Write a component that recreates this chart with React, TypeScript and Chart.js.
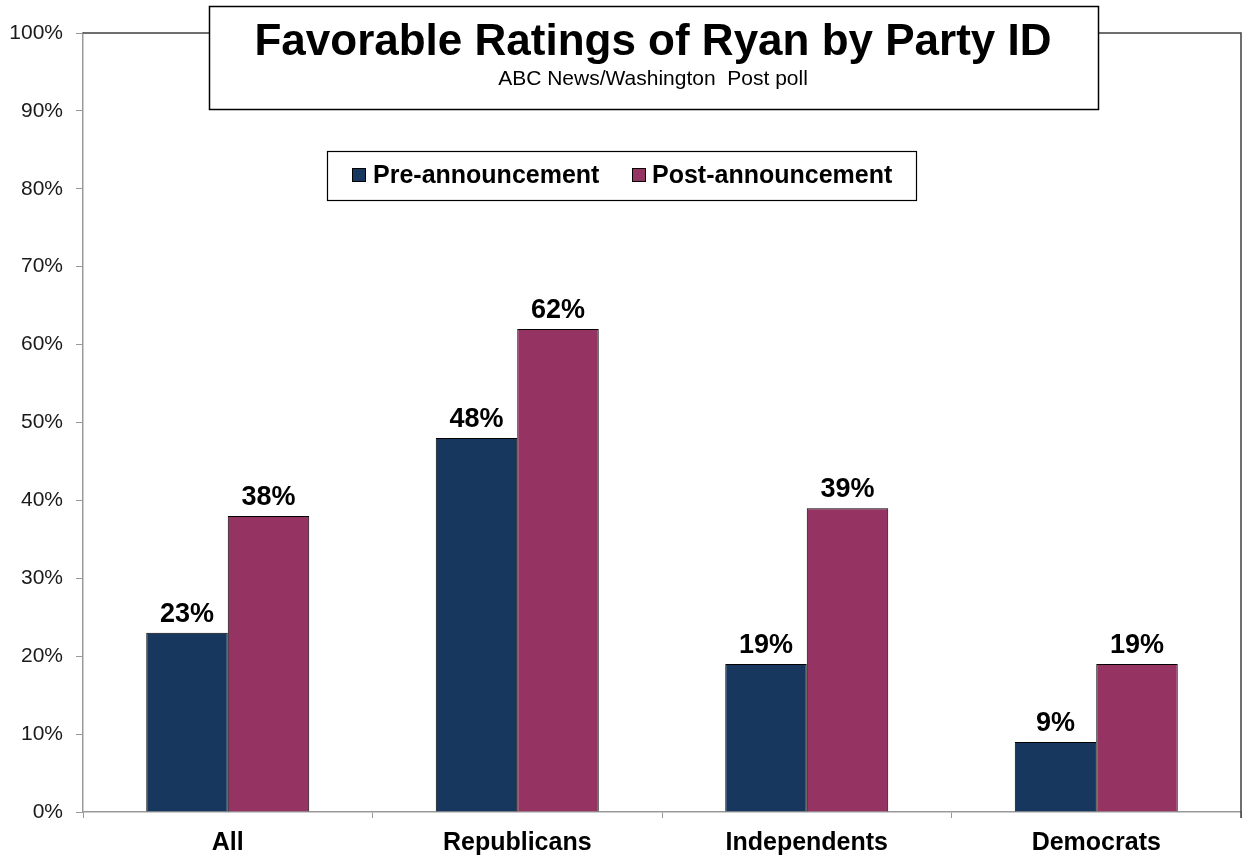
import React, { useEffect, useRef } from "react";
import { Chart, registerables } from "chart.js";
Chart.register(...registerables);

const categories = ["All", "Republicans", "Independents", "Democrats"];
const preValues = [23, 48, 19, 9];
const postValues = [38, 62, 39, 19];
const seriesNames = ["Pre-announcement", "Post-announcement"];
const seriesColors = ["#17375E", "#953463"];
const titleText = "Favorable Ratings of Ryan by Party ID";
const subtitleText = "ABC News/Washington  Post poll";
const yMin = 0;
const yMax = 100;
const yStep = 10;

const FONT = '"Liberation Sans", Arial, Helvetica, sans-serif';

const decorPlugin = {
  id: "decor",
  afterDatasetsDraw(chart: any) {
    const ctx = chart.ctx as CanvasRenderingContext2D;
    const ca = chart.chartArea;
    ctx.save();
    // data labels
    ctx.fillStyle = "#000";
    ctx.font = `bold 27px ${FONT}`;
    ctx.textAlign = "center";
    ctx.textBaseline = "alphabetic";
    chart.data.datasets.forEach((ds: any, di: number) => {
      const meta = chart.getDatasetMeta(di);
      meta.data.forEach((bar: any, i: number) => {
        ctx.fillText(`${ds.data[i]}%`, bar.x, bar.y - 11);
      });
    });
    // top & right border
    ctx.strokeStyle = "#404040";
    ctx.lineWidth = 1.5;
    ctx.beginPath();
    ctx.moveTo(ca.left, ca.top);
    ctx.lineTo(ca.right, ca.top);
    ctx.lineTo(ca.right, ca.bottom + 6);
    ctx.stroke();
    ctx.restore();
  },
  afterDraw(chart: any) {
    const ctx = chart.ctx as CanvasRenderingContext2D;
    ctx.save();
    // title box
    ctx.fillStyle = "#fff";
    ctx.fillRect(209.5, 6.5, 889, 103);
    ctx.strokeStyle = "#000";
    ctx.lineWidth = 1.5;
    ctx.strokeRect(209.5, 6.5, 889, 103);
    ctx.fillStyle = "#000";
    ctx.textAlign = "center";
    ctx.textBaseline = "alphabetic";
    ctx.font = `bold 44px ${FONT}`;
    ctx.fillText(titleText, 653, 55);
    ctx.font = `21px ${FONT}`;
    ctx.fillText(subtitleText, 653, 85);
    // legend box
    ctx.fillStyle = "#fff";
    ctx.fillRect(327.5, 151.5, 589, 49);
    ctx.strokeStyle = "#000";
    ctx.lineWidth = 1.2;
    ctx.strokeRect(327.5, 151.5, 589, 49);
    const items = [
      { sx: 352, tx: 373 },
      { sx: 632, tx: 652 },
    ];
    ctx.font = `bold 25px ${FONT}`;
    ctx.textAlign = "left";
    ctx.textBaseline = "middle";
    items.forEach((it, i) => {
      ctx.fillStyle = seriesColors[i];
      ctx.fillRect(it.sx + 0.5, 168.5, 13, 13);
      ctx.strokeStyle = "#000";
      ctx.lineWidth = 1;
      ctx.strokeRect(it.sx + 0.5, 168.5, 13, 13);
      ctx.fillStyle = "#000";
      ctx.fillText(seriesNames[i], it.tx, 176);
    });
    ctx.restore();
  },
};

export default function App() {
  const ref = useRef<HTMLCanvasElement | null>(null);
  useEffect(() => {
    if (!ref.current) return;
    const chart = new Chart(ref.current, {
      type: "bar",
      data: {
        labels: categories,
        datasets: [
          {
            label: seriesNames[0],
            data: preValues,
            backgroundColor: seriesColors[0],
            borderColor: "#000",
            borderWidth: 1,
          },
          {
            label: seriesNames[1],
            data: postValues,
            backgroundColor: seriesColors[1],
            borderColor: "#000",
            borderWidth: 1,
          },
        ],
      },
      options: {
        animation: false,
        responsive: false,
        layout: { padding: { left: 0, right: 2, top: 33, bottom: 0 } },
        plugins: {
          legend: { display: false },
          title: { display: false },
          tooltip: { enabled: false },
        },
        datasets: {
          bar: { categoryPercentage: 0.563, barPercentage: 1.0 },
        },
        scales: {
          x: {
            grid: {
              offset: true,
              drawOnChartArea: false,
              tickLength: 6,
              color: "#999",
            },
            border: { color: "#999", width: 1.5 },
            ticks: {
              color: "#000",
              font: { family: FONT, size: 25, weight: "bold" },
              padding: 10,
            },
            afterFit: (s: any) => {
              s.height = 44;
            },
          },
          y: {
            min: yMin,
            max: yMax,
            ticks: {
              stepSize: yStep,
              color: "#1a1a1a",
              font: { family: FONT, size: 21 },
              padding: 13,
              callback: (v: any) => `${v}%`,
            },
            grid: {
              drawOnChartArea: false,
              tickLength: 7,
              color: "#999",
            },
            border: { color: "#999", width: 1.5 },
            afterFit: (s: any) => {
              s.width = 83;
            },
          },
        },
      },
      plugins: [decorPlugin],
    });
    return () => chart.destroy();
  }, []);
  return (
    <div style={{ position: "fixed", left: 0, top: 0, width: 1243, height: 856, background: "#fff" }}>
      <canvas ref={ref} width={1243} height={856} style={{ display: "block" }} />
    </div>
  );
}
